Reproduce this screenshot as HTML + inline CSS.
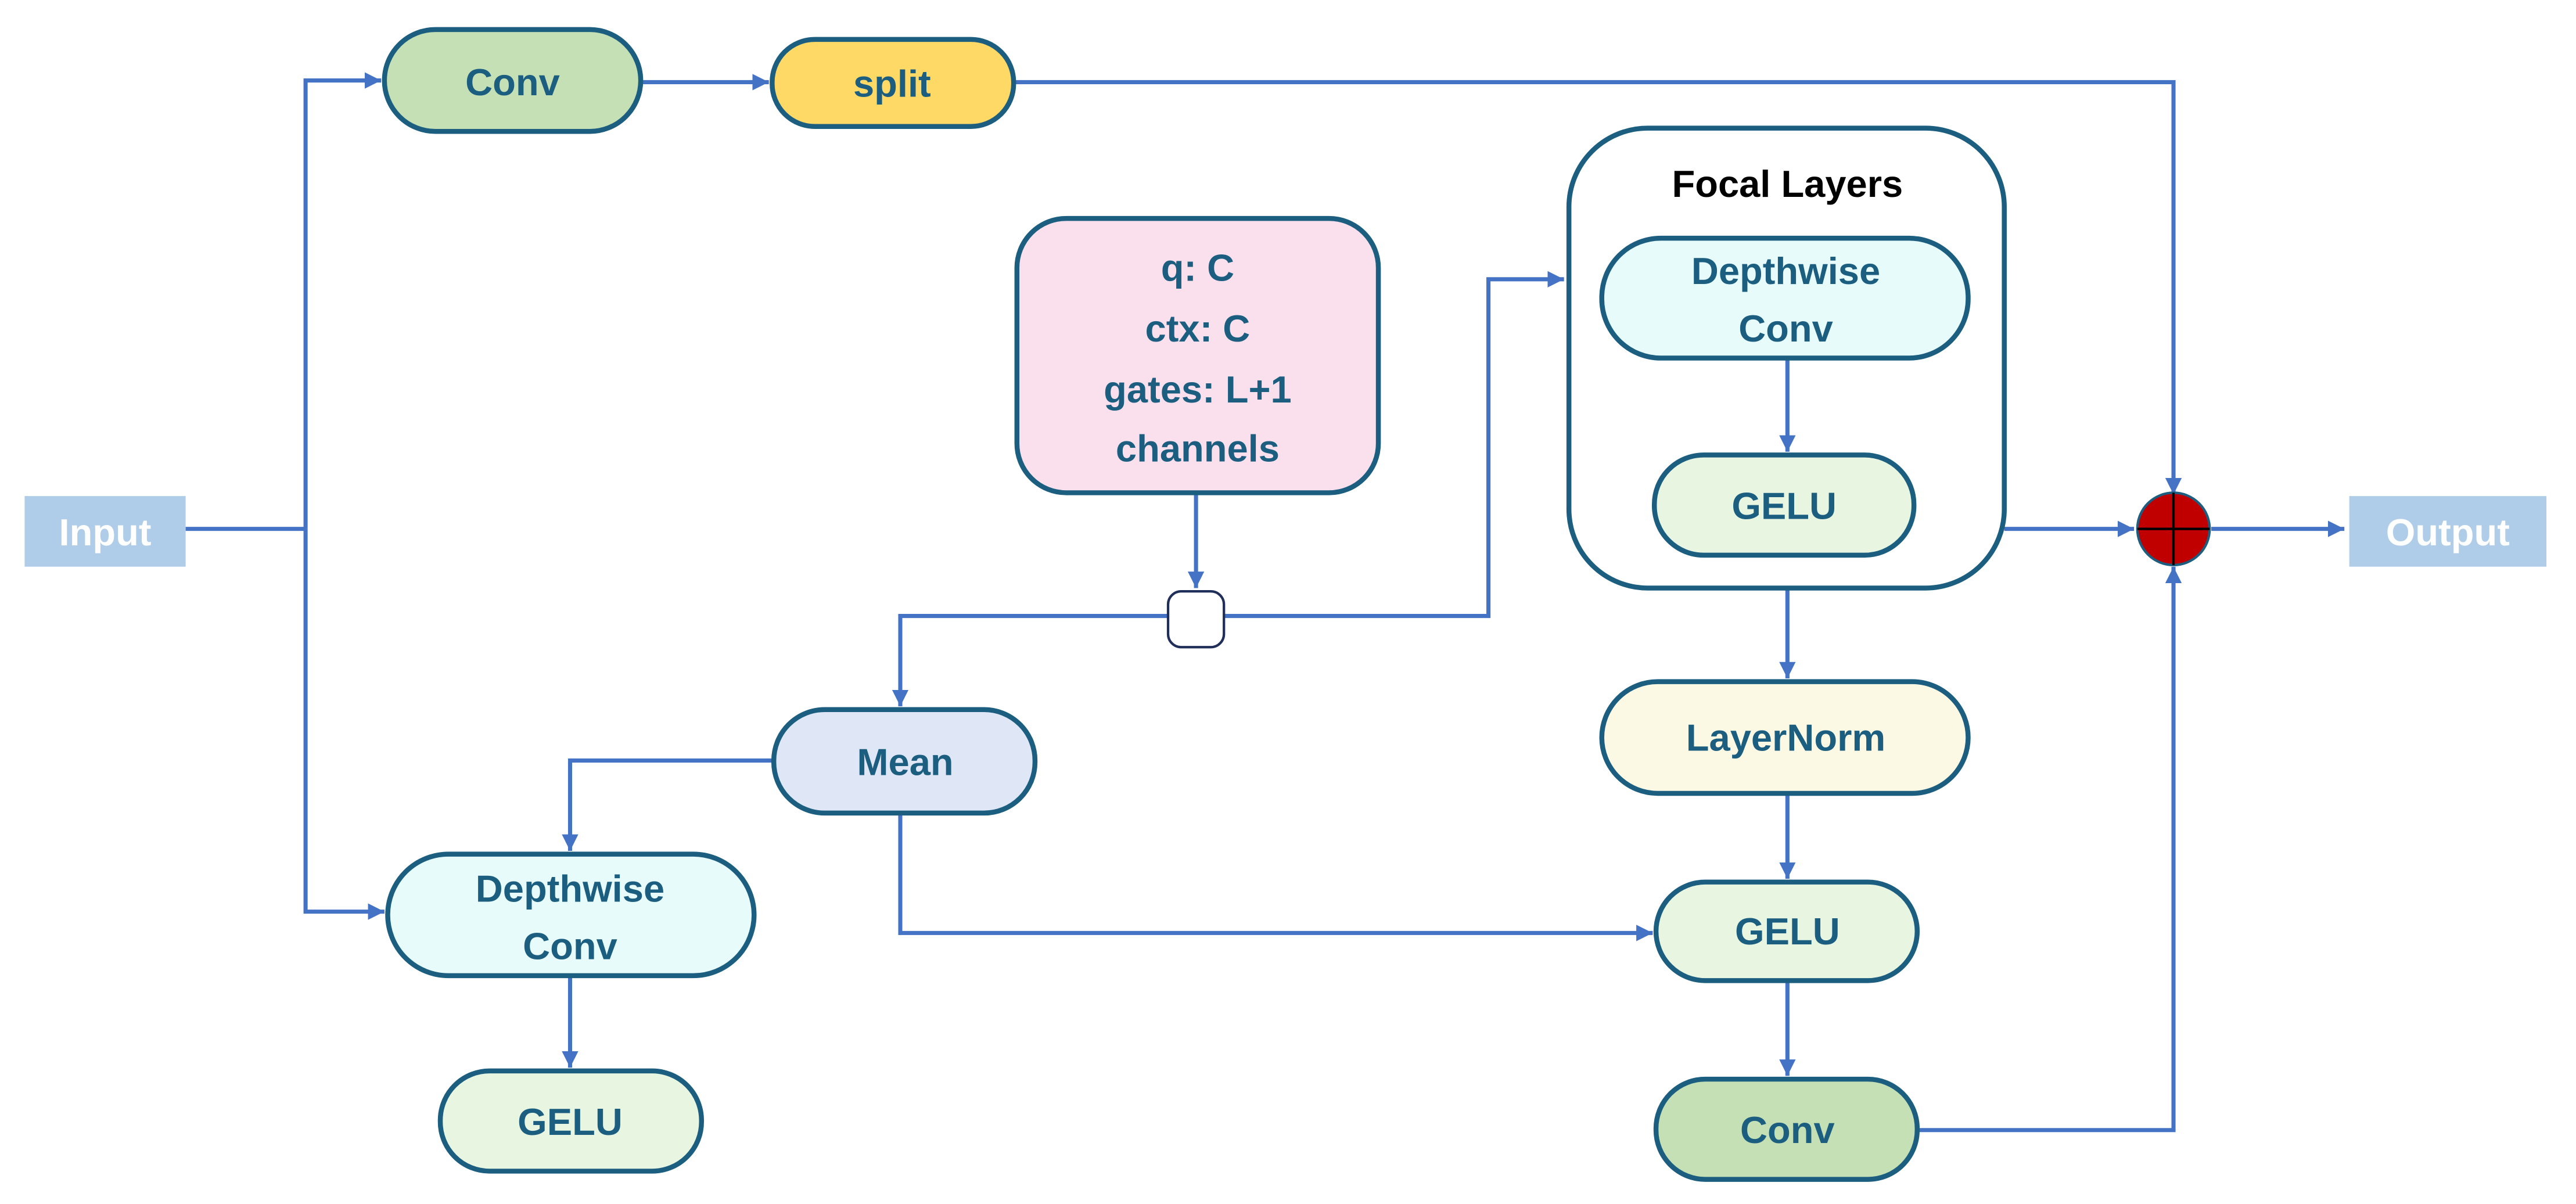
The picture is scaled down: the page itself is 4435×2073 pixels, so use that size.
<!DOCTYPE html>
<html><head><meta charset="utf-8"><style>
html,body{margin:0;padding:0;background:#fff;}
svg{display:block;}
text{font-family:"Liberation Sans",sans-serif;font-weight:bold;fill:#1B5E80;text-anchor:middle;dominant-baseline:central;font-size:23px;}
</style></head><body>
<svg width="4435" height="2073" viewBox="0 0 1568 733" preserveAspectRatio="none" xmlns="http://www.w3.org/2000/svg">
<defs>
<marker id="a" viewBox="0 0 10 10" refX="10" refY="5" markerWidth="4" markerHeight="4" orient="auto" markerUnits="strokeWidth">
<path d="M0,0 L10,5 L0,10 z" fill="#4472C4"/></marker>
</defs>
<g fill="none" stroke="#4472C4" stroke-width="2.5">
<path d="M113,322 H186"/>
<path d="M186,322 V49 H232" marker-end="url(#a)"/>
<path d="M186,322 V555 H234" marker-end="url(#a)"/>
<path d="M390,50 H468" marker-end="url(#a)"/>
<path d="M617,50 H1323 V301" marker-end="url(#a)"/>
<path d="M728,300 V358" marker-end="url(#a)"/>
<path d="M711,375 H548 V430" marker-end="url(#a)"/>
<path d="M745,375 H906 V170 H952" marker-end="url(#a)"/>
<path d="M1088,338 V413" marker-end="url(#a)"/>
<path d="M1088,483 V535" marker-end="url(#a)"/>
<path d="M1088,597 V655" marker-end="url(#a)"/>
<path d="M1220,322 H1299" marker-end="url(#a)"/>
<path d="M1346,322 H1427" marker-end="url(#a)"/>
<path d="M1167,688 H1323 V345" marker-end="url(#a)"/>
<path d="M471,463 H347 V518" marker-end="url(#a)"/>
<path d="M548,495 V568 H1006" marker-end="url(#a)"/>
<path d="M347,594 V650" marker-end="url(#a)"/>
</g>
<rect x="15" y="302" width="98" height="43" fill="#AFCDE9"/>
<text x="64" y="324" style="fill:#fff">Input</text>
<rect x="1430" y="302" width="120" height="43" fill="#AFCDE9"/>
<text x="1490" y="324" style="fill:#fff">Output</text>
<g stroke="#1B5E80" stroke-width="3">
<rect x="234" y="18" width="156" height="62" rx="31" fill="#C5E0B4"/>
<rect x="470" y="24" width="147" height="53" rx="26" fill="#FFD966"/>
<rect x="619" y="133" width="220" height="167" rx="30" fill="#FADFEC"/>
<rect x="711" y="360" width="34" height="34" rx="8" fill="#fff" stroke="#1F2F5A" stroke-width="1.5"/>
<rect x="955" y="78" width="265" height="280" rx="48" fill="#fff"/>
</g>
<path d="M1088,218 V275" fill="none" stroke="#4472C4" stroke-width="2.5" marker-end="url(#a)"/>
<g stroke="#1B5E80" stroke-width="3">
<rect x="975" y="145" width="223" height="73" rx="36" fill="#E8FBFB"/>
<rect x="1007" y="277" width="158" height="61" rx="30" fill="#E8F5E1"/>
<rect x="975" y="415" width="223" height="68" rx="34" fill="#FBF8E3"/>
<rect x="1008" y="537" width="159" height="60" rx="30" fill="#E8F5E1"/>
<rect x="1008" y="657" width="159" height="61" rx="30" fill="#C5E0B4"/>
<rect x="471" y="432" width="159" height="63" rx="31" fill="#DFE6F6"/>
<rect x="236" y="520" width="223" height="74" rx="37" fill="#E8FBFB"/>
<rect x="268" y="652" width="159" height="61" rx="30" fill="#E8F5E1"/>
</g>
<ellipse cx="1323" cy="322" rx="22" ry="22" fill="#C00000" stroke="#1B5E80" stroke-width="1.5"/>
<path d="M1301,322 H1345 M1323,300 V344" stroke="#000" stroke-width="1.5"/>
<text x="312" y="50">Conv</text>
<text x="543" y="51">split</text>
<text x="729" y="163">q: C</text>
<text x="729" y="200">ctx: C</text>
<text x="729" y="237">gates: L+1</text>
<text x="729" y="273">channels</text>
<text x="1088" y="112" style="fill:#000">Focal Layers</text>
<text x="1087" y="165">Depthwise</text>
<text x="1087" y="200">Conv</text>
<text x="1086" y="308">GELU</text>
<text x="1087" y="449">LayerNorm</text>
<text x="1088" y="567">GELU</text>
<text x="1088" y="688">Conv</text>
<text x="551" y="464">Mean</text>
<text x="347" y="541">Depthwise</text>
<text x="347" y="576">Conv</text>
<text x="347" y="683">GELU</text>
</svg>
</body></html>
